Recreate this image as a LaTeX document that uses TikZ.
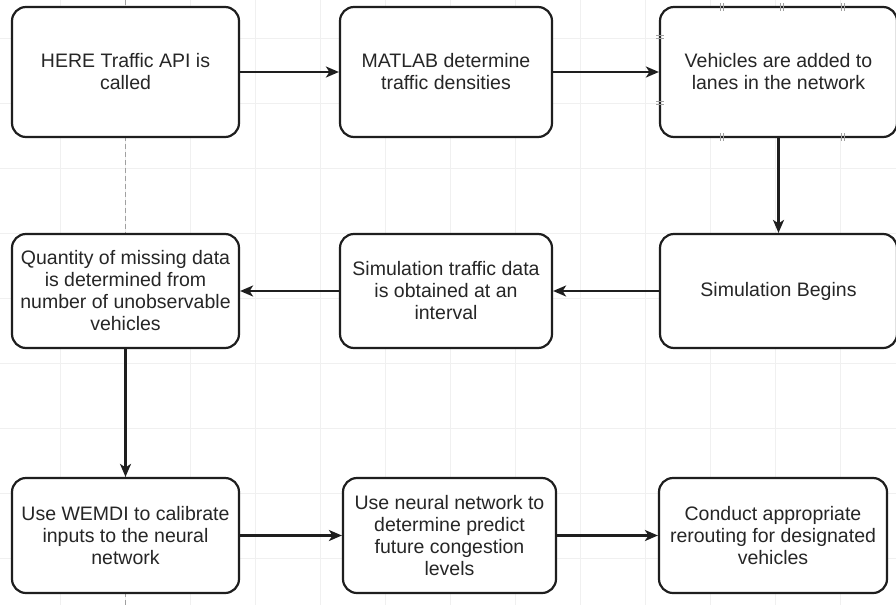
\documentclass[tikz,border=0pt]{standalone}
\usepackage{fontspec}
\setmainfont{Liberation Sans}
\usetikzlibrary{arrows.meta}
\definecolor{edge}{HTML}{1E1E1E}
\definecolor{gridc}{HTML}{F0F0F0}
\definecolor{txt}{HTML}{262626}
\definecolor{guide}{HTML}{A0A0A0}
\begin{document}
\begin{tikzpicture}[x=1pt,y=-1pt,
  box/.style={draw=edge, line width=2.2pt, rounded corners=14pt, fill=white,
    align=center, text=txt, inner sep=0pt,
    font=\fontsize{19.5}{22}\selectfont},
  wide/.style={minimum width=227pt},
  mid/.style={minimum width=212pt},
  right/.style={minimum width=237pt},
  tall/.style={minimum height=130pt},
  short/.style={minimum height=115pt},
  flow/.style={draw=edge, line width=2.2pt,
    -{Stealth[length=13pt,width=11pt,inset=3.5pt]}},
  handle/.style={draw=guide, line width=0.7pt},
  ]
\useasboundingbox (0,0) rectangle (896,605);
\fill[white] (0,0) rectangle (896,605);

% background grid
\foreach \gx in {60,125,...,900} \draw[gridc, line width=0.9pt] (\gx,0) -- (\gx,605);
\foreach \gy in {38,103,...,605} \draw[gridc, line width=0.9pt] (0,\gy) -- (896,\gy);

% vertical alignment guide
\draw[guide, line width=0.9pt, dash pattern=on 5pt off 3pt] (125.5,0) -- (125.5,605);

% first row
\node[box, wide, tall] (api) at (125.5,72) {HERE Traffic API is\\called};
\node[box, mid, tall] (matlab) at (446,72) {MATLAB determine\\traffic densities};
\node[box, right, tall] (lanes) at (778.5,72) {Vehicles are added to\\lanes in the network};

% second row
\node[box, wide, minimum height=114pt] (missing) at (125.5,291)
  {Quantity of missing data\\is determined from\\number of unobservable\\vehicles};
\node[box, mid, minimum height=114pt] (simdata) at (446,291)
  {Simulation traffic data\\is obtained at an\\interval};
\node[box, right, minimum height=114pt] (simbegin) at (778.5,291) {Simulation Begins};

% third row
\node[box, wide, short] (wemdi) at (125.5,535.5)
  {Use WEMDI to calibrate\\inputs to the neural\\network};
\node[box, minimum width=213pt, short] (neural) at (449.5,535.5)
  {Use neural network to\\determine predict\\future congestion\\levels};
\node[box, minimum width=228pt, short] (reroute) at (773,535.5)
  {Conduct appropriate\\rerouting for designated\\vehicles};

% selection handles on the selected box
\foreach \hx in {722,782,843} {
  \draw[handle] (\hx-1.5,3) -- (\hx-1.5,11);
  \draw[handle] (\hx+1.5,3) -- (\hx+1.5,11);
}
\foreach \hx in {722,843} {
  \draw[handle] (\hx-1.5,133) -- (\hx-1.5,141);
  \draw[handle] (\hx+1.5,133) -- (\hx+1.5,141);
}
\foreach \hy in {37,103} {
  \draw[handle] (656,\hy-1.5) -- (664,\hy-1.5);
  \draw[handle] (656,\hy+1.5) -- (664,\hy+1.5);
}

% connectors
\draw[flow] (api) -- (matlab);
\draw[flow] (matlab) -- (lanes);
\draw[flow] (lanes) -- (simbegin);
\draw[flow] (simbegin) -- (simdata);
\draw[flow] (simdata) -- (missing);
\draw[flow] (missing) -- (wemdi);
\draw[flow] (wemdi) -- (neural);
\draw[flow] (neural) -- (reroute);
\end{tikzpicture}
\end{document}
